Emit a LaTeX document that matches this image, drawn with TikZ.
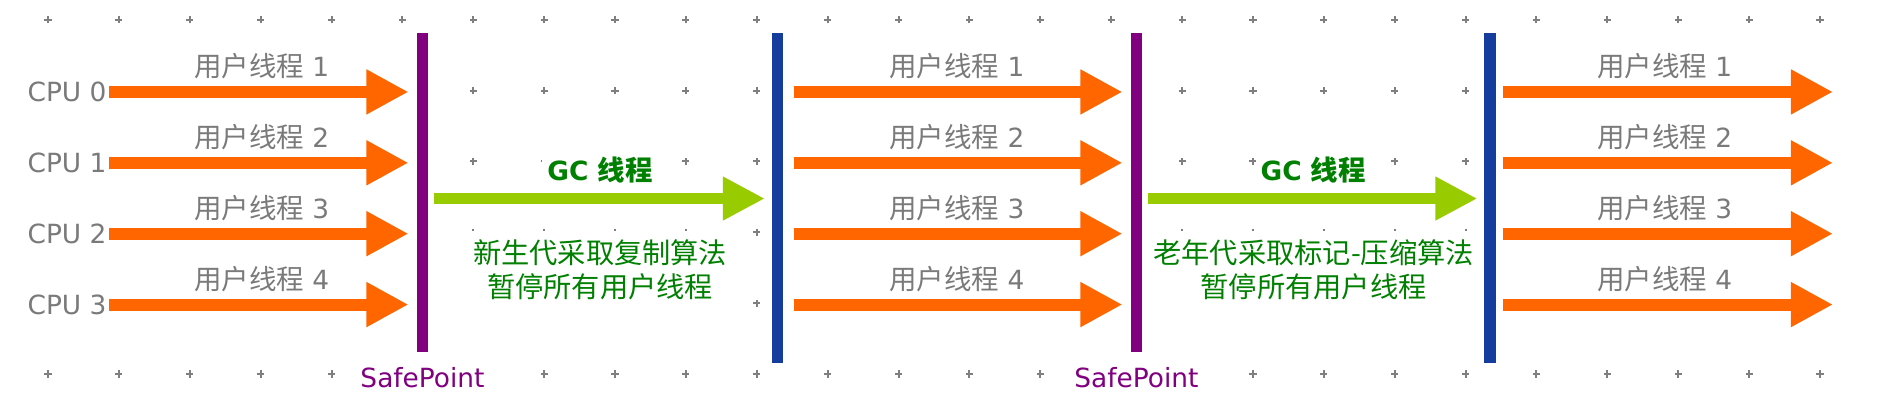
\documentclass[tikz,border=0pt]{standalone}
\usepackage{fontspec}
\setmainfont{DejaVu Sans}
\newfontfamily\cjk{Noto Sans CJK SC}[Scale=1.04]
\usetikzlibrary{arrows.meta, positioning}
\definecolor{threadorange}{HTML}{FF6600}
\definecolor{safepurple}{HTML}{800080}
\definecolor{resumeblue}{HTML}{153D9E}
\definecolor{gcgreen}{HTML}{99CC00}
\definecolor{textgreen}{HTML}{008000}
\definecolor{labelgray}{HTML}{7A7A7A}
\definecolor{crossgray}{HTML}{7F7F7F}

\begin{document}
\begin{tikzpicture}[
  font=\fontsize{10.6pt}{12.7pt}\selectfont,
  cpu/.style={anchor=east, inner sep=0pt, text=labelgray},
  tlabel/.style={midway, yshift=0.36cm, inner sep=0pt, text=labelgray},
  thread/.style={threadorange, line width=0.169cm,
                 -{Triangle[length=0.593cm, width=0.593cm]}, shorten >=1.1mm},
  gcarrow/.style={gcgreen, line width=0.155cm,
                  -{Triangle[length=0.593cm, width=0.578cm]}, shorten <=0.8mm, shorten >=0.9mm},
  gclabel/.style={midway, above=0.064cm, fill=white, inner xsep=0.07cm, inner ysep=0.08cm,
                  text=textgreen, font=\fontsize{10.6pt}{12.7pt}\selectfont\bfseries},
  desc/.style={fill=white, inner xsep=0.1cm, inner ysep=0.12cm, align=center,
               text=textgreen, font=\fontsize{10.9pt}{13.65pt}\selectfont\cjk},
  bar/.style={inner sep=0pt, minimum width=0.162cm},
  sp/.style={bar, fill=safepurple, minimum height=4.501cm},
  rp/.style={bar, fill=resumeblue, minimum height=4.656cm},
  splabel/.style={below=0.146cm of #1, fill=white, inner sep=0.05cm, text=safepurple},
  cross/.style={crossgray, line width=0.8pt},
]
  \useasboundingbox (-0.677,-0.367) rectangle (25.903,5.277);
  \fill[white] (-0.677,-0.367) rectangle (25.903,5.277);

  % dotted grid
  \foreach \i in {0,...,25}
    \foreach \j in {0,...,5}
      \draw[cross] (\i-0.05,\j) -- (\i+0.05,\j) (\i,\j-0.05) -- (\i,\j+0.05);
  \fill[white] (-0.68,0.5) rectangle (5.6,4.5);
  \fill[white] (10.45,0.5) rectangle (15.6,4.5);
  \fill[white] (20.45,0.5) rectangle (25.9,4.5);

  % safepoints and restarts
  \node[sp] (sp1) at (5.284,2.5605) {};
  \node[rp] (rp1) at (10.292,2.483) {};
  \node[sp] (sp2) at (15.357,2.5605) {};
  \node[rp] (rp2) at (20.344,2.483) {};
  \node[splabel=sp1] (sp1text) {SafePoint};
  \node[splabel=sp2] (sp2text) {SafePoint};

  % user threads
  \foreach \i [count=\n] in {0,...,3} {
    \node[cpu] (cpu\i) at (0.832,3.98-\i) {CPU \i};
    \coordinate (end\i) at (25.183,3.98-\i);
    \draw[thread, shorten <=0.3mm] (cpu\i.east) -- (sp1.west |- cpu\i.east)
      node[tlabel] (ta\i) {{\cjk 用户线程} \n};
    \draw[thread, shorten <=1.4mm] (rp1.east |- cpu\i.east) -- (sp2.west |- cpu\i.east)
      node[tlabel] (tb\i) {{\cjk 用户线程} \n};
    \draw[thread, shorten <=0.9mm, shorten >=0pt] (rp2.east |- cpu\i.east) -- (end\i)
      node[tlabel] (tc\i) {{\cjk 用户线程} \n};
  }

  % gc threads
  \coordinate (gcrow) at (0,2.476);
  \draw[gcarrow] (sp1.east |- gcrow) -- (rp1.west |- gcrow)
    node[gclabel] (gc1) {GC {\cjk 线程}};
  \draw[gcarrow] (sp2.east |- gcrow) -- (rp2.west |- gcrow)
    node[gclabel] (gc2) {GC {\cjk 线程}};
  \node[desc] (desc1) at (7.79,1.474) {新生代采取复制算法\\暂停所有用户线程};
  \node[desc] (desc2) at (17.855,1.474) {老年代采取标记-压缩算法\\暂停所有用户线程};
\end{tikzpicture}
\end{document}
